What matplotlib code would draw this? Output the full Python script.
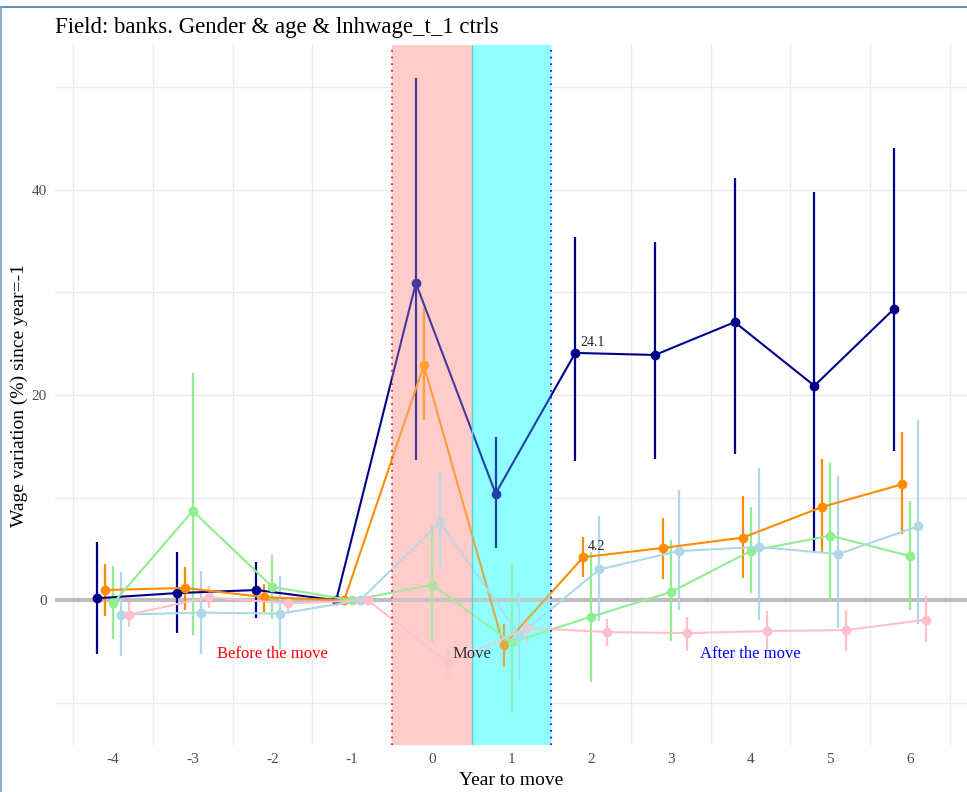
import matplotlib
matplotlib.use("Agg")
import matplotlib.pyplot as plt
from matplotlib.lines import Line2D
import numpy as np

plt.rcParams['font.family'] = ['Liberation Serif', 'DejaVu Serif']

years = [-4, -3, -2, -1, 0, 1, 2, 3, 4, 5, 6]

# point estimate, upper and lower bound of the confidence interval per group
navy_est = [0.2, 0.7, 1.0, 0.0, 30.9, 10.4, 24.1, 23.9, 27.1, 20.9, 28.4]
navy_hi = [5.7, 4.7, 3.7, 0.0, 50.9, 15.9, 35.4, 34.9, 41.1, 39.8, 44.1]
navy_lo = [-5.2, -3.2, -1.7, 0.0, 13.7, 5.1, 13.6, 13.8, 14.3, 4.6, 14.5]

orange_est = [1.0, 1.2, 0.3, 0.0, 22.9, -4.4, 4.2, 5.1, 6.1, 9.1, 11.3]
orange_hi = [3.5, 3.2, 1.6, 0.0, 28.5, -2.3, 6.2, 8.0, 10.2, 13.8, 16.4]
orange_lo = [-1.5, -0.9, -1.1, 0.0, 17.6, -6.5, 2.3, 2.1, 2.2, 4.7, 6.5]

green_est = [-0.3, 8.7, 1.3, 0.0, 1.5, -4.1, -1.6, 0.8, 4.8, 6.3, 4.3]
green_hi = [3.3, 22.1, 4.4, 0.0, 7.3, 3.6, 4.7, 5.9, 9.1, 13.4, 9.7]
green_lo = [-3.8, -3.4, -1.8, 0.0, -4.1, -11.0, -8.0, -4.0, 0.7, -0.2, -0.9]

lblue_est = [-1.4, -1.2, -1.3, 0.0, 7.6, -3.4, 3.0, 4.8, 5.2, 4.5, 7.2]
lblue_hi = [2.8, 2.9, 2.4, 0.0, 12.4, 0.8, 8.2, 10.7, 12.9, 12.1, 17.6]
lblue_lo = [-5.4, -5.2, -4.7, 0.0, 3.0, -7.8, -2.0, -0.9, -1.9, -2.7, -2.3]

pink_est = [-1.4, 0.3, -0.3, 0.0, -6.1, -2.7, -3.1, -3.2, -3.0, -2.9, -1.9]
pink_hi = [-0.2, 1.4, 0.3, 0.0, -4.8, -1.4, -1.8, -1.6, -1.0, -0.9, 0.4]
pink_lo = [-2.6, -0.8, -1.3, 0.0, -7.5, -4.2, -4.5, -4.9, -4.9, -4.9, -4.1]

series = [
    ("darkblue", -0.2, navy_est, navy_hi, navy_lo),
    ("darkorange", -0.1, orange_est, orange_hi, orange_lo),
    ("lightgreen", 0.0, green_est, green_hi, green_lo),
    ("lightblue", 0.1, lblue_est, lblue_hi, lblue_lo),
    ("pink", 0.2, pink_est, pink_hi, pink_lo),
]

title = "Field: banks. Gender & age & lnhwage_t_1 ctrls"
xlabel = "Year to move"
ylabel = "Wage variation (%) since year=-1"
period_labels = [("Before the move", -2.0, "red"), ("Move", 0.5, "#333333"),
                 ("After the move", 4.0, "blue")]

W, H = 967, 792
fig = plt.figure(figsize=(W / 100, H / 100), dpi=100)
ax_left, ax_bottom = 55, 745
ax = fig.add_axes([ax_left / W, 1 - ax_bottom / H, 1 - ax_left / W, 700 / H])

x = np.array(years, dtype=float)

# horizontal grid (every 10) and vertical grid between years
for gy in [-10, 10, 20, 30, 40, 50]:
    ax.axhline(gy, color="#EBEBEB", lw=1.0, zorder=0)
for gx in np.arange(-4.5, 7.0, 1.0):
    ax.axvline(gx, color="#EBEBEB", lw=1.0, zorder=0)

# move-period shading: solid background plus a light wash over the series
ax.axvspan(-0.5, 0.5, color="#FFCCCC", lw=0, zorder=0.5)
ax.axvspan(0.5, 1.5, color="#8FFFFF", lw=0, zorder=0.5)
ax.axvspan(-0.5, 0.5, color="#FFCCCC", alpha=0.28, lw=0, zorder=4)
ax.axvspan(0.5, 1.5, color="#8FFFFF", alpha=0.25, lw=0, zorder=4)
ax.axvline(0.5, color="#5FD3D3", lw=1.0, zorder=4)
ax.axvline(-0.5, color="red", lw=1.2, ls=(0, (1, 3)), zorder=4)
ax.axvline(1.5, color="blue", lw=1.2, ls=(0, (1, 3)), zorder=4)

ax.axhline(0, color="#BEBEBE", lw=3.0, zorder=1)

for color, off, est, hi, lo in series:
    xs = x + off
    ax.vlines(xs, np.array(lo), np.array(hi), color=color, lw=1.6, zorder=2)
    ax.plot(xs, np.array(est), color=color, lw=1.5, marker="o", ms=6, zorder=3)

# value labels at year 2
ax.text(2 - 0.2 + 0.06, navy_est[6] + 0.4, f"{navy_est[6]:.1f}", fontsize=10,
        color="#222222", ha="left", va="bottom", zorder=5)
ax.text(2 - 0.1 + 0.06, orange_est[6] + 0.4, f"{orange_est[6]:.1f}", fontsize=10,
        color="#222222", ha="left", va="bottom", zorder=5)

for txt, px, col in period_labels:
    ax.text(px, -5.2, txt, color=col, fontsize=12, ha="center", va="center", zorder=6)

ax.set_xlim(-4.728, 6.715)
ax.set_ylim(-14.1, 54.1)
ax.set_xticks(years)
ax.set_xticklabels([str(v) for v in years])
ax.set_yticks([0, 20, 40])
ax.tick_params(axis="both", length=0, labelsize=11, labelcolor="#4D4D4D", pad=6)
for s in ax.spines.values():
    s.set_visible(False)
ax.set_xlabel(xlabel, fontsize=14, labelpad=4)
ax.set_ylabel(ylabel, fontsize=14)
ax.yaxis.set_label_coords((28 - ax_left) / (W - ax_left), 0.5)

fig.text(ax_left / W, 1 - 28 / H, title, fontsize=16.4, ha="left", va="center")

# outer frame lines
fig.add_artist(Line2D([0, 1], [1 - 7 / H, 1 - 7 / H], color="#4F78B0", lw=1.2))
fig.add_artist(Line2D([0.5 / W, 0.5 / W], [0, 1 - 7 / H], color="#7A9CC8", lw=1.2))

fig.savefig("out.png", dpi=100)
